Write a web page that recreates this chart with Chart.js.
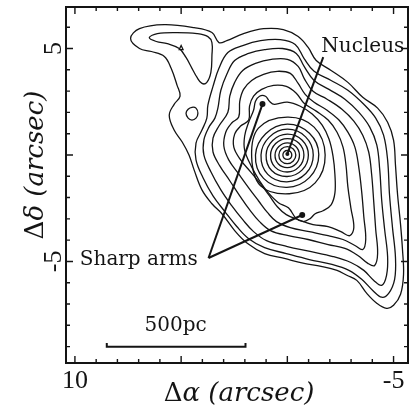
<!DOCTYPE html>
<html>
<head>
<meta charset="utf-8">
<script src="https://cdn.jsdelivr.net/npm/chart.js@4/dist/chart.umd.min.js"></script>
<style>
  html, body { margin: 0; padding: 0; background: #fff; }
  canvas { display: block; }
</style>
</head>
<body>
<canvas id="chart" width="412" height="408"></canvas>
<script>
// contour lines, flat lists of [dAlpha, dDelta] pairs in arcsec
const outerContour = [7.38,5.47, 6.96,5.93, 5.79,6.12, 4.39,5.98, 3.55,5.75, 3.22,5.28, 2.85,5.37, 2.06,5.70, 1.12,5.93, 0.19,5.89,
  -0.51,5.56, -0.98,5.05, -1.36,4.44, -2.06,3.97, -2.85,3.41, -3.55,2.71, -4.25,2.20, -4.72,1.54, -5.00,0.70, -5.09,-0.47,
  -5.19,-1.87, -5.33,-3.27, -5.42,-4.44, -5.47,-5.61, -5.33,-6.54, -5.00,-7.06, -4.67,-7.20, -4.21,-6.96, -3.74,-6.50, -3.27,-5.89,
  -2.80,-5.65, -2.34,-5.42, -1.59,-5.23, -0.79,-5.09, 0.14,-4.86, 1.07,-4.63, 1.87,-4.16, 2.48,-3.55, 3.08,-2.76, 3.55,-2.29,
  4.02,-1.64, 4.39,-0.70, 4.63,0.00, 4.95,0.61, 5.33,1.17, 5.56,1.87, 5.33,2.38, 5.05,2.76, 5.19,3.27, 5.47,4.07,
  5.79,4.63, 6.40,4.86, 6.96,5.00];
const lobeContour = [6.50,5.51, 6.12,5.70, 5.19,5.75, 4.25,5.70, 3.74,5.56, 3.55,5.28, 3.55,4.67, 3.60,3.88, 3.79,3.41, 4.02,3.36,
  4.25,3.64, 4.49,4.07, 4.77,4.58, 5.09,5.00, 5.65,5.23, 6.17,5.33];
const lobeSpeck = [5.00,5.14, 4.91,4.95, 5.09,4.95];
const westKnot = [4.21,1.96, 4.30,2.20, 4.49,2.24, 4.67,2.15, 4.77,1.96, 4.67,1.73, 4.49,1.64, 4.30,1.73];
const contour3 = [3.74,2.34, 3.50,3.22, 3.22,4.07, 2.80,4.81, 2.10,5.14, 1.26,5.37, 0.33,5.42, -0.37,5.19, -0.79,4.53, -1.26,3.93,
  -2.06,3.50, -2.85,3.04, -3.60,2.38, -4.16,1.73, -4.53,0.93, -4.72,-0.23, -4.81,-1.87, -4.95,-3.41, -5.09,-4.81, -5.05,-5.84,
  -4.77,-6.50, -4.44,-6.68, -4.02,-6.36, -3.50,-5.84, -2.90,-5.42, -2.10,-5.14, -1.03,-4.91, 0.05,-4.63, 1.07,-4.35, 1.82,-3.93,
  2.38,-3.36, 2.94,-2.66, 3.50,-1.92, 3.97,-1.07, 4.30,-0.23, 4.30,0.56, 4.02,1.17, 3.79,1.73];
const contour4 = [3.27,2.20, 3.13,3.04, 2.85,3.79, 2.48,4.44, 1.82,4.77, 1.07,4.95, 0.23,5.00, -0.42,4.77, -0.79,4.16, -1.26,3.50,
  -1.96,3.08, -2.71,2.62, -3.36,2.01, -3.88,1.31, -4.21,0.47, -4.35,-0.70, -4.44,-2.10, -4.58,-3.50, -4.72,-4.77, -4.67,-5.65,
  -4.44,-6.12, -4.07,-5.89, -3.60,-5.42, -2.99,-5.05, -2.15,-4.77, -1.07,-4.53, 0.00,-4.30, 0.98,-4.02, 1.59,-3.60, 2.10,-3.04,
  2.62,-2.38, 3.13,-1.64, 3.60,-0.79, 3.93,0.00, 3.93,0.70, 3.69,1.31, 3.41,1.73];
const contour5 = [2.80,2.01, 2.71,2.76, 2.48,3.41, 2.10,3.97, 1.50,4.30, 0.75,4.49, 0.00,4.49, -0.51,4.16, -0.79,3.60, -1.21,2.99,
  -1.87,2.62, -2.57,2.15, -3.13,1.59, -3.55,0.93, -3.83,0.14, -3.97,-0.93, -4.07,-2.24, -4.16,-3.50, -4.25,-4.63, -4.11,-5.19,
  -3.79,-5.09, -3.32,-4.72, -2.71,-4.39, -1.92,-4.21, -0.98,-3.97, -0.05,-3.79, 0.79,-3.55, 1.31,-3.13, 1.78,-2.57, 2.24,-1.92,
  2.71,-1.21, 3.18,-0.51, 3.50,0.14, 3.50,0.79, 3.22,1.36];
const contour6 = [2.29,1.78, 2.24,2.52, 2.06,3.08, 1.68,3.50, 1.12,3.79, 0.47,3.93, -0.14,3.83, -0.51,3.36, -0.84,2.85, -1.26,2.48,
  -1.87,2.10, -2.43,1.64, -2.85,1.07, -3.18,0.37, -3.36,-0.56, -3.50,-1.73, -3.60,-2.90, -3.69,-3.97, -3.55,-4.44, -3.18,-4.25,
  -2.62,-3.97, -1.92,-3.79, -1.03,-3.60, -0.14,-3.41, 0.51,-3.13, 0.93,-2.71, 1.36,-2.15, 1.82,-1.54, 2.29,-0.89, 2.76,-0.23,
  2.99,0.42, 2.90,1.07, 2.62,1.50];
const contour7 = [1.82,1.64, 1.78,2.29, 1.59,2.76, 1.21,3.08, 0.65,3.27, 0.05,3.22, -0.42,2.90, -0.79,2.43, -1.36,2.06, -1.92,1.64,
  -2.34,1.07, -2.62,0.37, -2.76,-0.47, -2.85,-1.50, -2.99,-2.48, -3.13,-3.41, -2.94,-3.79, -2.52,-3.60, -1.92,-3.36, -1.21,-3.27,
  -0.51,-3.04, 0.05,-2.80, 0.47,-2.43, 0.84,-1.92, 1.26,-1.36, 1.73,-0.79, 2.20,-0.23, 2.52,0.37, 2.48,0.98, 2.20,1.36];
const contour8 = [2.01,0.23, 2.01,0.89, 1.82,1.54, 1.59,2.10, 1.50,2.52, 1.31,2.76, 1.03,2.76, 0.84,2.52, 0.61,2.38, 0.00,2.48,
  -0.61,2.29, -1.17,1.92, -1.64,1.40, -1.96,0.75, -2.15,-0.05, -2.24,-0.93, -2.24,-1.78, -2.06,-2.34, -1.68,-2.62, -1.31,-2.76,
  -1.07,-2.99, -0.75,-3.13, -0.42,-2.99, -0.05,-2.48, 0.42,-2.24, 0.89,-1.78, 1.31,-1.21, 1.68,-0.56];
const ring8 = [0.00,1.78, -1.26,1.31, -1.78,0.00, -1.31,-1.31, -0.09,-1.82, 1.26,-1.45, 1.68,-0.09, 1.36,1.26];
const ring7 = [-1.48,0.02, -1.04,1.02, 0.00,1.45, 1.02,1.00, 1.50,0.00, 1.12,-1.10, 0.02,-1.52, -1.05,-1.05];
const ring6 = [-1.22,0.00, -0.86,0.85, 0.00,1.21, 0.85,0.84, 1.24,0.00, 0.92,-0.91, 0.02,-1.26, -0.87,-0.87];
const ring5 = [-0.99,0.00, -0.70,0.69, 0.00,0.98, 0.69,0.68, 1.00,0.00, 0.74,-0.73, 0.01,-1.01, -0.70,-0.70];
const ring4 = [-0.78,0.00, -0.55,0.55, 0.00,0.77, 0.55,0.54, 0.79,0.00, 0.58,-0.57, 0.00,-0.80, -0.55,-0.56];
const ring3 = [-0.57,0.00, -0.40,0.40, 0.00,0.57, 0.40,0.40, 0.58,0.00, 0.42,-0.42, 0.00,-0.59, -0.41,-0.41];
const ring2 = [-0.40,0.00, -0.28,0.28, 0.00,0.39, 0.28,0.28, 0.40,0.00, 0.29,-0.29, 0.00,-0.41, -0.28,-0.28];
const ring1 = [-0.21,0.00, -0.15,0.15, 0.00,0.21, 0.15,0.15, 0.21,0.00, 0.15,-0.15, 0.00,-0.21, -0.15,-0.15];

// pointers and scale bar
const nucleusPointer = [-1.69,4.60, 0.00,0.05];
const upperArmPointer = [3.71,-4.84, 1.17,2.39];
const lowerArmPointer = [3.71,-4.84, -0.70,-2.82];
const scaleBar = [8.50,-8.83, 8.50,-9.01, 1.97,-9.01, 1.97,-8.83];

// axes
const xMinorTicks = [10, 9, 8, 7, 6, 5, 4, 3, 2, 1, 0, -1, -2, -3, -4, -5];
const xMajorTicks = [10, 5, 0, -5];
const xLabelAt = [10, -5];
const xTickLabels = ['10', '-5'];
const yMinorTicks = [6, 5, 4, 3, 2, 1, 0, -1, -2, -3, -4, -5, -6, -7, -8, -9];
const yMajorTicks = [5, 0, -5];
const yLabelAt = [5, -5];
const yTickLabels = ['5', '-5'];

const ink = '#141414';
const serif = '"DejaVu Serif", serif';

function toPoints(flat) {
    const pts = [];
    for (let i = 0; i < flat.length; i += 2) pts.push({ x: flat[i], y: flat[i + 1] });
    return pts;
}

function contourSet(flat, tension) {
    return {
        data: toPoints(flat), showLine: true, closed: true,
        borderColor: ink, borderWidth: 1.3, pointRadius: 0, tension: tension, fill: false
    };
}

function pointerSet(flat, width, tipRadius) {
    return {
        data: toPoints(flat), showLine: true,
        borderColor: ink, borderWidth: width, tension: 0, fill: false,
        pointRadius: [0, tipRadius], pointBackgroundColor: ink, pointBorderWidth: 0
    };
}

const closedContours = [outerContour, lobeContour, westKnot, contour3, contour4, contour5, contour6, contour7, contour8,
    ring8, ring7, ring6, ring5, ring4, ring3, ring2, ring1];

const datasets = closedContours.map(c => contourSet(c, 0.38));
datasets.push(contourSet(lobeSpeck, 0));
datasets.push(pointerSet(nucleusPointer, 2, 2));
datasets.push(pointerSet(upperArmPointer, 2, 3));
datasets.push(pointerSet(lowerArmPointer, 2, 3));
datasets.push({
    data: toPoints(scaleBar), showLine: true, borderColor: ink, borderWidth: 2,
    tension: 0, pointRadius: 0, fill: false
});

// close each contour into a smooth loop
const closeLoops = {
    id: 'closeLoops',
    beforeDatasetsDraw(chart) {
        chart.data.datasets.forEach((ds, i) => {
            if (!ds.closed) return;
            const line = chart.getDatasetMeta(i).dataset;
            if (!line) return;
            line._loop = true;
            line._fullLoop = true;
            line._pointsUpdated = false;
            line._segments = undefined;
            line._path = undefined;
            line.updateControlPoints(chart.chartArea, 'x');
        });
    }
};

function drawMixed(ctx, parts, size, cx, baseline) {
    let total = 0;
    parts.forEach(p => { ctx.font = `${p[1]} ${size}px ${serif}`; total += ctx.measureText(p[0]).width; });
    let x = cx - total / 2;
    ctx.textAlign = 'left';
    ctx.textBaseline = 'alphabetic';
    parts.forEach(p => {
        ctx.font = `${p[1]} ${size}px ${serif}`;
        ctx.fillText(p[0], x, baseline);
        x += ctx.measureText(p[0]).width;
    });
}

const frame = {
    id: 'frame',
    afterDraw(chart) {
        const { ctx, chartArea: a, scales: { x, y } } = chart;
        ctx.save();
        ctx.strokeStyle = ink;
        ctx.fillStyle = ink;
        ctx.lineWidth = 2;
        ctx.strokeRect(a.left, a.top, a.right - a.left, a.bottom - a.top);

        ctx.lineWidth = 1.4;
        ctx.beginPath();
        xMinorTicks.forEach(v => {
            const p = x.getPixelForValue(v);
            const len = xMajorTicks.includes(v) ? 7 : 4;
            ctx.moveTo(p, a.bottom); ctx.lineTo(p, a.bottom - len);
            ctx.moveTo(p, a.top); ctx.lineTo(p, a.top + len);
        });
        yMinorTicks.forEach(v => {
            const p = y.getPixelForValue(v);
            const len = yMajorTicks.includes(v) ? 7 : 4;
            ctx.moveTo(a.left, p); ctx.lineTo(a.left + len, p);
            ctx.moveTo(a.right, p); ctx.lineTo(a.right - len, p);
        });
        ctx.stroke();

        // tick labels
        ctx.font = '26px "Liberation Serif", serif';
        ctx.textAlign = 'center';
        ctx.textBaseline = 'alphabetic';
        xLabelAt.forEach((v, i) => ctx.fillText(xTickLabels[i], x.getPixelForValue(v), 388));
        yLabelAt.forEach((v, i) => {
            ctx.save();
            ctx.translate(61, y.getPixelForValue(v));
            ctx.rotate(-Math.PI / 2);
            ctx.fillText(yTickLabels[i], 0, 0);
            ctx.restore();
        });

        // axis titles
        drawMixed(ctx, [['\u0394', 'normal'], ['\u03b1 (arcsec)', 'italic']], 26, 239, 401);
        ctx.save();
        ctx.translate(43, 165);
        ctx.rotate(-Math.PI / 2);
        drawMixed(ctx, [['\u0394', 'normal'], ['\u03b4 (arcsec)', 'italic']], 26, 0, 0);
        ctx.restore();

        // annotations
        ctx.font = `20px ${serif}`;
        ctx.textAlign = 'left';
        ctx.fillText('Nucleus', x.getPixelForValue(-1.60), y.getPixelForValue(4.84));
        ctx.fillText('Sharp arms', x.getPixelForValue(9.77), y.getPixelForValue(-5.16));
        ctx.textAlign = 'center';
        ctx.fillText('500pc', x.getPixelForValue(5.26), y.getPixelForValue(-8.26));
        ctx.restore();
    }
};

const chart = new Chart(document.getElementById('chart'), {
    type: 'scatter',
    data: { datasets: datasets },
    options: {
        responsive: false,
        animation: false,
        events: [],
        layout: { padding: { left: 66, right: 3, top: 7, bottom: 45 } },
        plugins: { legend: { display: false }, tooltip: { enabled: false } },
        scales: {
            x: { type: 'linear', reverse: true, min: -5.68, max: 10.42, display: false },
            y: { type: 'linear', min: -9.77, max: 6.95, display: false }
        }
    },
    plugins: [closeLoops, frame]
});
</script>
</body>
</html>
